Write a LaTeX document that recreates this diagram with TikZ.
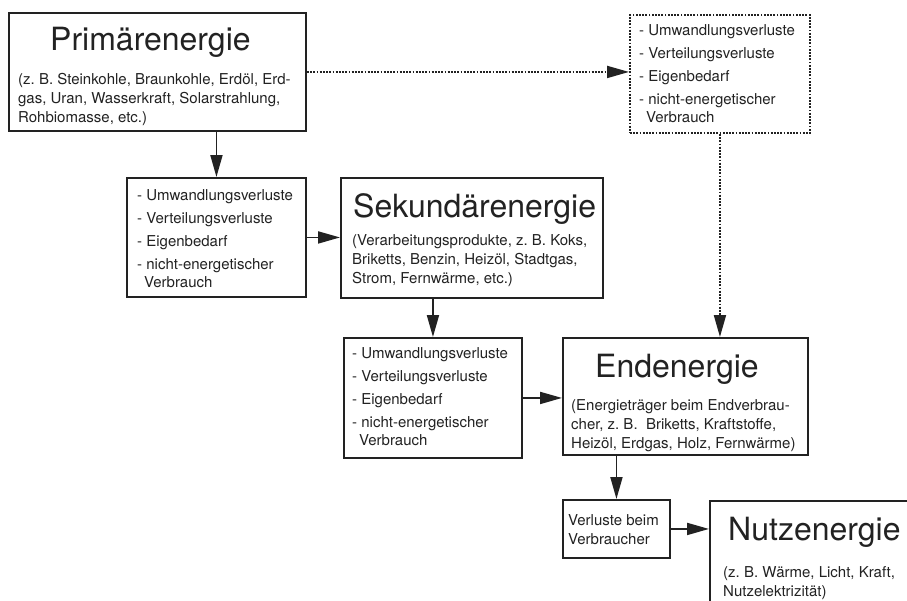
\documentclass[tikz,border=0pt]{standalone}
\usepackage{fontspec}
\setmainfont{TeX Gyre Heros}
\usetikzlibrary{arrows.meta}
\definecolor{ink}{HTML}{222222}
\frenchspacing

\begin{document}
\begin{tikzpicture}[x=1pt,y=-1pt,
  box/.style={draw=ink,line width=1.9pt,anchor=north west,inner sep=0pt},
  dotbox/.style={box,dash pattern=on 1.8pt off 1.4pt},
  ttl/.style={anchor=base west,inner sep=0pt,text=ink,font=\fontsize{32}{38}\selectfont},
  sub/.style={anchor=north west,inner sep=0pt,align=left,text=ink,font=\fontsize{15}{19}\selectfont},
  lst/.style={sub,font=\fontsize{15}{23}\selectfont},
  arr/.style={draw=ink,line width=1.9pt,-{Triangle[length=22pt,width=12pt]}},
  darr/.style={arr,dash pattern=on 1.8pt off 1.4pt}]
\useasboundingbox (0,0) rectangle (907,600);
\clip (0,0) rectangle (907,600);
\fill[white] (0,0) rectangle (907,600);

% Kaesten
\node[box,minimum width=297pt,minimum height=118pt] (prim) at (8,12) {};
\node[dotbox,minimum width=180pt,minimum height=118pt] (verl0) at (629,14) {};
\node[box,minimum width=179pt,minimum height=119pt] (verl1) at (126,177) {};
\node[box,minimum width=262pt,minimum height=120pt] (sek) at (340,177) {};
\node[box,minimum width=178pt,minimum height=120pt] (verl2) at (343,337) {};
\node[box,minimum width=245pt,minimum height=117pt] (ende) at (562,337) {};
\node[box,minimum width=107pt,minimum height=58pt] (verlb) at (562,499) {};
\node[box,minimum width=250pt,minimum height=150pt] (nutz) at (709,500) {};

% Texte
\node[ttl] (primT) at (50,50) {Primärenergie};
\node[sub] (primS) at (18,73) {(z. B. Steinkohle, Braunkohle, Erdöl, Erd-\\gas, Uran, Wasserkraft, Solarstrahlung,\\Rohbiomasse, etc.)};
\node[lst] (verl0L) at (639,24) {- Umwandlungsverluste\\- Verteilungsverluste\\- Eigenbedarf\\- nicht-energetischer\\[-5pt]\hspace*{7pt}Verbrauch};
\node[lst] (verl1L) at (137,189) {- Umwandlungsverluste\\- Verteilungsverluste\\- Eigenbedarf\\- nicht-energetischer\\[-5pt]\hspace*{7pt}Verbrauch};
\node[ttl] (sekT) at (353,217) {Sekundärenergie};
\node[sub] (sekS) at (352,234) {(Verarbeitungsprodukte, z. B. Koks,\\Briketts, Benzin, Heizöl, Stadtgas,\\Strom, Fernwärme, etc.)};
\node[lst] (verl2L) at (352,347) {- Umwandlungsverluste\\- Verteilungsverluste\\- Eigenbedarf\\- nicht-energetischer\\[-5pt]\hspace*{7pt}Verbrauch};
\node[ttl] (endeT) at (595,377) {Endenergie};
\node[sub] (endeS) at (571,399) {(Energieträger beim Endverbrau-\\cher, z. B.~ Briketts, Kraftstoffe,\\Heizöl, Erdgas, Holz, Fernwärme)};
\node[sub] (verlbL) at (568,514) {Verluste beim\\Verbraucher};
\node[ttl] (nutzT) at (728,540) {Nutzenergie};
\node[sub] (nutzS) at (723,566) {(z. B. Wärme, Licht, Kraft,\\Nutzelektrizität)};

% Pfeile
\draw[arr] (prim.south -| verl1.north) -- (verl1.north);
\draw[arr] (verl1.east) -- (verl1.east -| sek.west);
\draw[arr] (sek.south -| verl2.north) -- (verl2.north);
\draw[arr] (verl2.east) -- (verl2.east -| ende.west);
\draw[arr] (ende.south -| verlb.north) -- (verlb.north);
\draw[arr] (verlb.east) -- (verlb.east -| nutz.west);
\draw[darr] (prim.east) -- (prim.east -| verl0.west);
\draw[darr] (verl0.south) -- (verl0.south |- ende.north);
\end{tikzpicture}
\end{document}
